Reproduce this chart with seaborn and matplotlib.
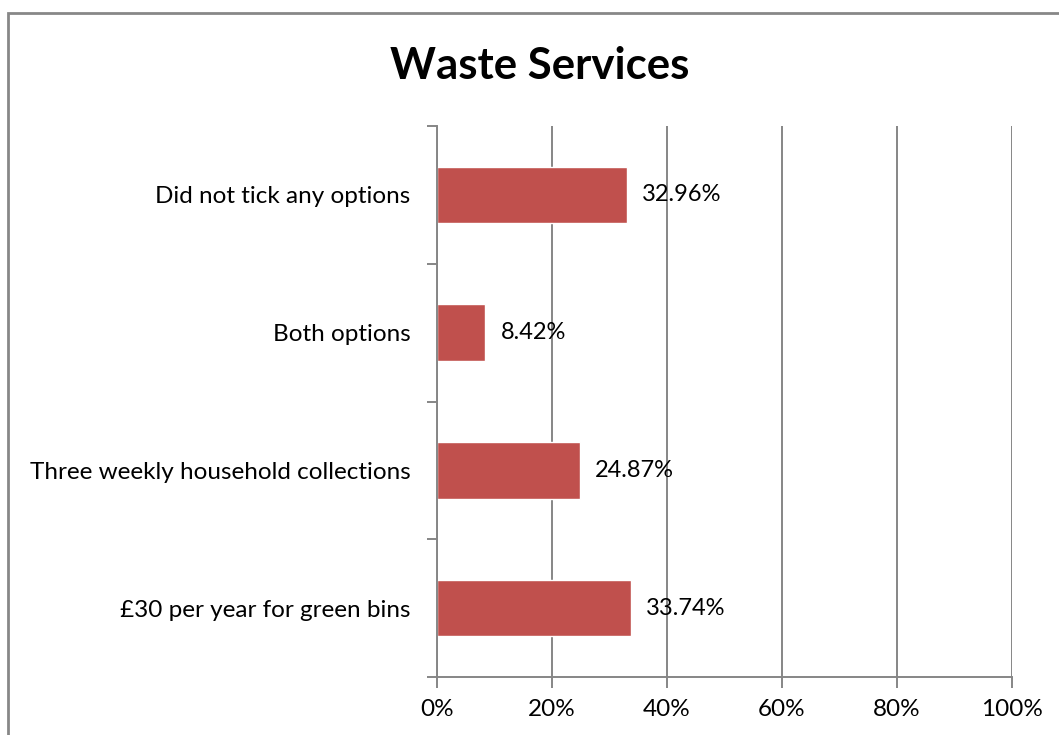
import pandas as pd
import seaborn as sns
import matplotlib.pyplot as plt
from matplotlib.patches import Rectangle
from matplotlib.ticker import FixedLocator, PercentFormatter

# data (top to bottom)
categories = ['Did not tick any options', 'Both options',
              'Three weekly household collections', '£30 per year for green bins']
values = [32.96, 8.42, 24.87, 33.74]
x_ticks = [0, 20, 40, 60, 80, 100]

df = pd.DataFrame({'category': categories, 'pct': values})

sns.set_theme(style="white")
plt.rcParams['font.family'] = ['Lato', 'DejaVu Sans']
plt.rcParams['text.color'] = 'black'

fig = plt.figure(figsize=(10.59, 7.35), dpi=100)
ax = fig.add_axes([437 / 1059, 1 - 677 / 735, 575 / 1059, 551 / 735])

sns.barplot(data=df, y='category', x='pct', orient='h', order=categories,
            color='#C0504D', saturation=1, width=0.41, ax=ax)

ax.set_xlim(0, 100)
ax.set_ylim(3.5, -0.5)
ax.xaxis.set_major_locator(FixedLocator(x_ticks))
ax.xaxis.set_major_formatter(PercentFormatter(decimals=0))
ax.grid(axis='x', color='#868686', linewidth=1.4)
ax.set_axisbelow(True)

# category boundaries as minor ticks on the value axis
ax.yaxis.set_minor_locator(FixedLocator([-0.5, 0.5, 1.5, 2.5, 3.5]))
ax.tick_params(axis='y', which='major', length=0, pad=19, labelsize=17.5, labelcolor='black')
ax.tick_params(axis='y', which='minor', left=True, length=7, width=1.4, color='#868686')
ax.tick_params(axis='x', which='major', bottom=True, length=8, width=1.4,
               color='#868686', pad=8, labelsize=17.5, labelcolor='black')

for side in ['top', 'right']:
    ax.spines[side].set_visible(False)
for side in ['left', 'bottom']:
    ax.spines[side].set_color('#868686')
    ax.spines[side].set_linewidth(1.4)

ax.set_xlabel('')
ax.set_ylabel('')

for c in ax.containers:
    ax.bar_label(c, labels=[f'{v:.2f}%' for v in values], padding=11,
                 fontsize=17, color='black')

fig.text(540 / 1059, 1 - 66 / 735, 'Waste Services', ha='center', va='center',
         fontsize=31.5, fontweight='bold', color='black')

# outer chart border, cut off at right and bottom like the source
fig.patches.append(Rectangle((8 / 1059, -0.1), 1.2, 1 - 13 / 735 + 0.1,
                             transform=fig.transFigure, fill=False,
                             edgecolor='#878787', linewidth=2))

fig.savefig('out.png', dpi=100)
